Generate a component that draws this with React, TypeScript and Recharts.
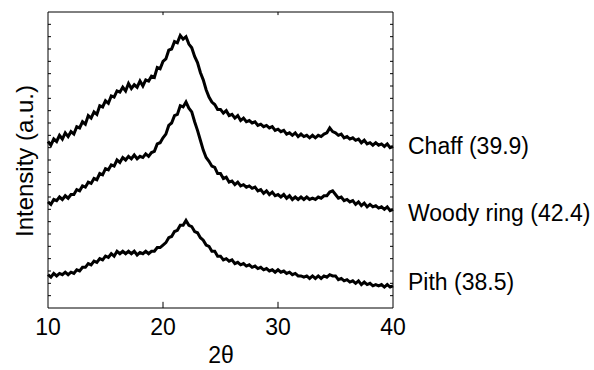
import { Line, LineChart, ReferenceLine, XAxis, YAxis } from 'recharts';

// scan: 10 to 40 deg 2-theta, 0.25 deg step
const SCAN_START = 10;
const SCAN_STEP = 0.25;

// intensities (arbitrary units, curves already offset)
const chaff = [
  135, 132, 137, 135, 140, 137, 142, 139, 143, 141, 147, 146,
  151, 149, 156, 154, 159, 157, 164, 163, 168, 166, 172, 171,
  176, 175, 179, 176, 182, 178, 181, 179, 184, 180, 185, 184,
  188, 187, 195, 194, 200, 202, 209, 210, 216, 215, 221, 218,
  220, 214, 211, 204, 199, 191, 185, 177, 171, 167, 165, 161,
  161, 158, 160, 156, 157, 154, 156, 152, 154, 151, 152, 150,
  151, 148, 149, 147, 148, 146, 147, 144, 145, 143, 144, 141,
  142, 140, 142, 139, 141, 139, 140, 138, 140, 138, 140, 139,
  141, 142, 146, 143, 142, 140, 141, 138, 139, 137, 138, 136,
  137, 134, 136, 133, 134, 132, 134, 132, 133, 131, 133, 130,
  131,
];
const woodyRing = [
  86, 84, 88, 87, 90, 88, 91, 89, 92, 92, 96, 95,
  99, 98, 102, 101, 105, 104, 109, 108, 113, 112, 116, 115,
  120, 118, 122, 120, 123, 121, 124, 121, 123, 122, 125, 123,
  126, 127, 133, 134, 138, 141, 148, 150, 156, 157, 164, 163,
  167, 162, 159, 151, 144, 136, 128, 122, 119, 115, 114, 109,
  109, 105, 106, 102, 103, 100, 102, 99, 100, 98, 99, 97,
  98, 95, 96, 93, 95, 92, 94, 91, 92, 90, 92, 89,
  91, 88, 90, 88, 90, 88, 90, 88, 89, 88, 90, 89,
  91, 91, 94, 95, 92, 89, 90, 87, 88, 86, 87, 84,
  86, 83, 85, 82, 84, 82, 83, 81, 82, 80, 82, 79,
  80,
];
const pith = [
  27, 25, 28, 26, 28, 27, 29, 27, 29, 28, 31, 30,
  33, 33, 36, 35, 38, 37, 40, 39, 42, 41, 44, 42,
  46, 44, 46, 44, 46, 44, 46, 43, 45, 44, 46, 44,
  46, 46, 49, 49, 51, 53, 57, 58, 62, 63, 67, 67,
  71, 67, 66, 62, 61, 57, 55, 51, 50, 46, 46, 42,
  42, 39, 40, 38, 39, 36, 37, 35, 36, 34, 35, 33,
  34, 32, 33, 31, 32, 30, 31, 29, 31, 29, 30, 28,
  29, 27, 28, 26, 26, 25, 26, 24, 26, 24, 26, 24,
  26, 25, 27, 26, 26, 23, 24, 22, 23, 21, 22, 20,
  22, 19, 21, 19, 20, 18, 19, 18, 19, 17, 19, 17,
  18,
];

const seriesKeys = ['chaff', 'woody', 'pith'];
const seriesNames = ['Chaff (39.9)', 'Woody ring (42.4)', 'Pith (38.5)'];
const xTicks = [10, 20, 30, 40];
const xInnerTicks = [20, 30];
const yInnerTicks = [
  10, 20, 30, 40, 50, 60, 70, 80, 90, 100, 110, 120,
  130, 140, 150, 160, 170, 180, 190, 200, 210, 220, 230,
];

const X_MIN = 10;
const X_MAX = 40;
const Y_MIN = 0;
const Y_MAX = 240;

const data = chaff.map((v, i) => ({
  tt: SCAN_START + i * SCAN_STEP,
  chaff: v,
  woody: woodyRing[i],
  pith: pith[i],
}));
const LAST = data.length - 1;

const FONT = 'Liberation Sans, Arial, Helvetica, sans-serif';
const INK = '#000';
// tick lengths in data units (about 3px sideways, 6px / 3px vertical)
const SIDE_TICK = 0.26;
const BOTTOM_TICK = 5;
const TOP_TICK = 2.5;
// baseline offset of each end label from the curve's last point
const labelDy: Record<string, number> = { chaff: 8, woody: 12, pith: 4 };

function BottomLabel(props: any) {
  const { x, y, payload } = props;
  return (
    <text x={x} y={y + 27} textAnchor='middle' fontSize={23} fontFamily={FONT} fill={INK}>
      {payload.value}
    </text>
  );
}

const endLabel = (key: string, name: string) => (p: any) =>
  p.index === LAST ? (
    <text x={p.x + 15} y={p.y + labelDy[key]} fontSize={23} fontFamily={FONT} fill={INK}>
      {name}
    </text>
  ) : null;

const tick = (key: string, a: { x: number; y: number }, b: { x: number; y: number }) => (
  <ReferenceLine
    key={key}
    xAxisId='b'
    yAxisId='l'
    segment={[a, b]}
    stroke={INK}
    strokeWidth={1}
    ifOverflow='visible'
  />
);

export default function App() {
  return (
    <div style={{ position: 'absolute', left: 0, top: 0 }}>
      <LineChart width={594} height={370} data={data} margin={{ top: 12, right: 201, bottom: 32, left: 48 }}>
        <XAxis
          xAxisId='b'
          dataKey='tt'
          type='number'
          domain={[X_MIN, X_MAX]}
          ticks={xTicks}
          height={30}
          tickSize={0}
          tickMargin={0}
          tickLine={false}
          tick={BottomLabel}
          axisLine={{ stroke: INK }}
          label={() => (
            <text x={221} y={363} textAnchor='middle' fontSize={23} fontFamily={FONT} fill={INK}>
              2θ
            </text>
          )}
        />
        <XAxis xAxisId='t' orientation='top' mirror tick={false} tickLine={false} axisLine={{ stroke: INK }} />
        <YAxis
          yAxisId='l'
          type='number'
          domain={[Y_MIN, Y_MAX]}
          mirror
          tick={false}
          tickLine={false}
          axisLine={{ stroke: INK }}
          label={() => (
            <text
              x={33}
              y={161}
              transform='rotate(-90 33 161)'
              textAnchor='middle'
              fontSize={24}
              fontFamily={FONT}
              fill={INK}
            >
              Intensity (a.u.)
            </text>
          )}
        />
        <YAxis yAxisId='r' orientation='right' mirror tick={false} tickLine={false} axisLine={{ stroke: INK }} />
        {yInnerTicks.map((v) => tick(`l${v}`, { x: X_MIN, y: v }, { x: X_MIN + SIDE_TICK, y: v }))}
        {yInnerTicks.map((v) => tick(`r${v}`, { x: X_MAX, y: v }, { x: X_MAX - SIDE_TICK, y: v }))}
        {xInnerTicks.map((v) => tick(`b${v}`, { x: v, y: Y_MIN }, { x: v, y: Y_MIN + BOTTOM_TICK }))}
        {xInnerTicks.map((v) => tick(`t${v}`, { x: v, y: Y_MAX }, { x: v, y: Y_MAX - TOP_TICK }))}
        {seriesKeys.map((k, i) => (
          <Line
            key={k}
            xAxisId='b'
            yAxisId='l'
            dataKey={k}
            stroke={INK}
            strokeWidth={3}
            strokeLinejoin='miter'
            dot={false}
            isAnimationActive={false}
            label={endLabel(k, seriesNames[i])}
          />
        ))}
      </LineChart>
    </div>
  );
}
